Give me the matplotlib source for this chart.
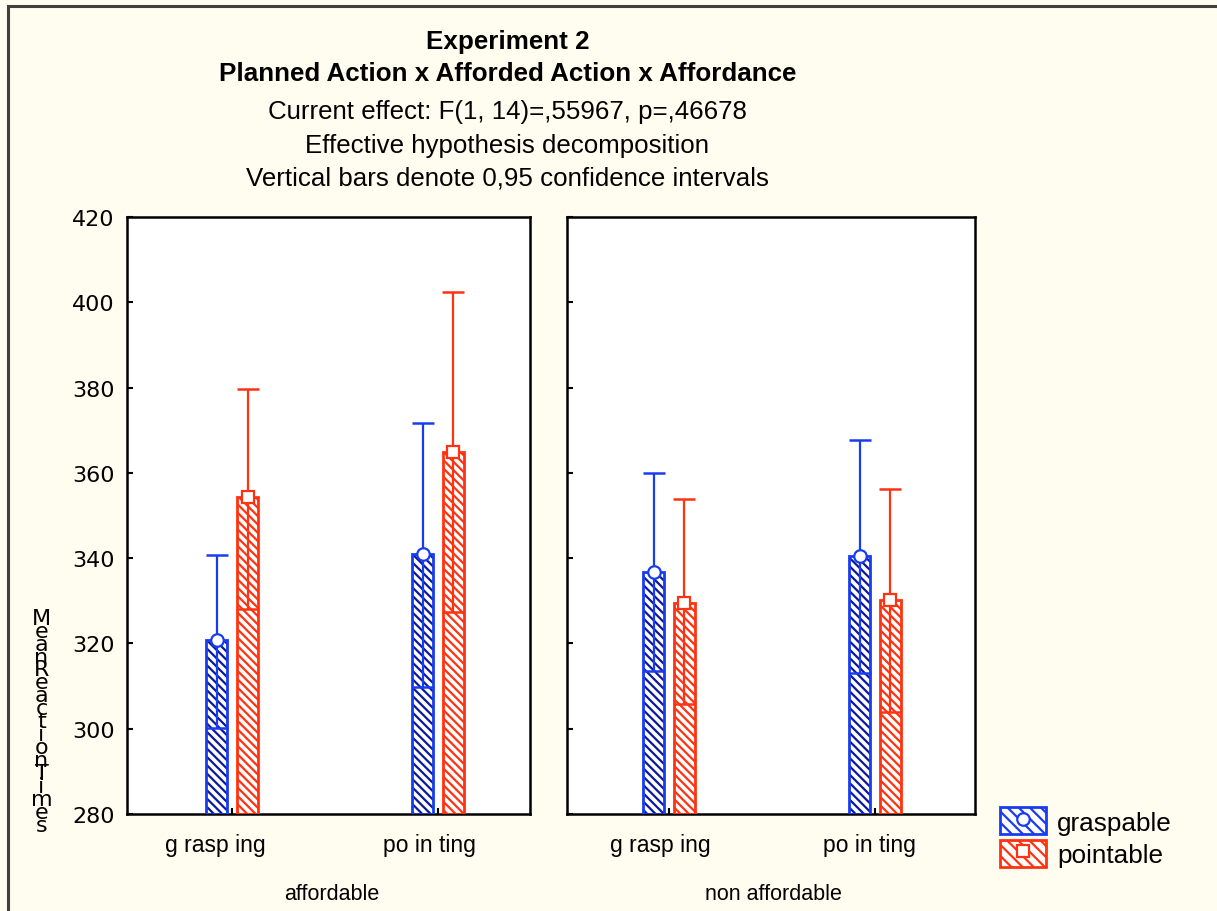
import numpy as np
import matplotlib
matplotlib.use('Agg')
import matplotlib.pyplot as plt
from matplotlib.patches import Patch, Rectangle
from matplotlib.lines import Line2D

# datos
paneles = ['affordable', 'non affordable']
categorias = ['g rasp ing', 'po in ting']
series = ['graspable', 'pointable']

media = {'affordable': {'graspable': [320.8, 341.0], 'pointable': [354.3, 364.9]},
         'non affordable': {'graspable': [336.8, 340.5], 'pointable': [329.5, 330.2]}}
ic_sup = {'affordable': {'graspable': [340.7, 371.7], 'pointable': [379.7, 402.4]},
          'non affordable': {'graspable': [360.0, 367.7], 'pointable': [353.9, 356.2]}}
ic_inf = {'affordable': {'graspable': [300.2, 309.8], 'pointable': [328.1, 327.4]},
          'non affordable': {'graspable': [313.5, 313.1], 'pointable': [305.8, 303.9]}}

yticks = [280, 300, 320, 340, 360, 380, 400, 420]

colores = {'graspable': '#1a3cf0', 'pointable': '#ff3311'}
colhatch = {'graspable': '#0a1a9a', 'pointable': '#ff3311'}
marcas = {'graspable': 'o', 'pointable': 's'}
desp = {'graspable': -0.075, 'pointable': 0.075}
ancho = 0.102

plt.rcParams['font.family'] = ['Liberation Sans', 'DejaVu Sans']
plt.rcParams['hatch.linewidth'] = 1.6

fondo = '#fffcf0'
fig = plt.figure(figsize=(12.17, 9.12), dpi=100, facecolor=fondo)

# borde exterior
fig.add_artist(Rectangle((0.0065, -0.01), 1.2, 1.002, transform=fig.transFigure,
                         fill=False, edgecolor='#404040', linewidth=2.2))

ejes = [fig.add_axes([0.1044, 0.1064, 0.3311, 0.6546]),
        fig.add_axes([0.4659, 0.1064, 0.3352, 0.6546])]
limx = [(-0.51, 1.447), (-0.495, 1.485)]

# corrimiento horizontal (pt) de las etiquetas de categoria, como en el original
corr_pt = [[-12, -5.8], [-6.5, -4.3]]

for k, (ax, panel) in enumerate(zip(ejes, paneles)):
    x = np.arange(len(categorias))
    for s in series:
        m = np.array(media[panel][s])
        sup = np.array(ic_sup[panel][s])
        inf = np.array(ic_inf[panel][s])
        xs = x + desp[s]
        ax.bar(xs, m - 280, bottom=280, width=ancho, facecolor='white',
               edgecolor=colhatch[s], hatch='\\\\\\\\', linewidth=0, zorder=2)
        ax.bar(xs, m - 280, bottom=280, width=ancho, facecolor='none',
               edgecolor=colores[s], linewidth=2, zorder=3)
        ax.errorbar(xs, m, yerr=[m - inf, sup - m], fmt='none', ecolor=colores[s],
                    elinewidth=1.6, capsize=8, capthick=1.8, zorder=4)
        ax.plot(xs, m, linestyle='none', marker=marcas[s], markersize=9,
                markerfacecolor='white', markeredgecolor=colores[s],
                markeredgewidth=1.6, zorder=5)
    ax.set_xlim(*limx[k])
    ax.set_ylim(280, 420)
    ax.set_yticks(yticks)
    ax.set_xticks(x)
    ax.set_xticklabels([])
    for j, cat in enumerate(categorias):
        ax.annotate(cat, xy=(x[j], 0), xycoords=ax.get_xaxis_transform(),
                    xytext=(corr_pt[k][j], -22), textcoords='offset points',
                    ha='center', va='center', fontsize=16.5,
                    family=['Liberation Sans Narrow', 'Liberation Sans'])
    ax.annotate(panel, xy=(0.5, 0), xycoords='axes fraction', xytext=(2, -57),
                textcoords='offset points', ha='center', va='center', fontsize=15.5)
    ax.tick_params(direction='in', length=4, width=1.5)
    ax.tick_params(axis='y', pad=9)
    for sp in ax.spines.values():
        sp.set_linewidth(1.8)
    ax.set_facecolor('white')

ejes[0].set_yticklabels([str(v) for v in yticks], fontsize=16, family='DejaVu Sans')
ejes[1].set_yticklabels([])

# etiqueta del eje y (letras apiladas)
fig.text(0.034, 0.208, '\n'.join('MeanReactionTimes'), fontsize=16,
         ha='center', va='center', linespacing=0.56, family='DejaVu Sans')

# titulos
fig.text(0.417, 0.954, 'Experiment 2', fontsize=18.7, fontweight='bold', ha='center', va='center')
fig.text(0.417, 0.919, 'Planned Action x Afforded Action x Affordance', fontsize=18.7,
         fontweight='bold', ha='center', va='center')
fig.text(0.417, 0.877, 'Current effect: F(1, 14)=,55967, p=,46678', fontsize=18.6, ha='center', va='center')
fig.text(0.417, 0.840, 'Effective hypothesis decomposition', fontsize=18.6, ha='center', va='center')
fig.text(0.417, 0.804, 'Vertical bars denote 0,95 confidence intervals', fontsize=18.6, ha='center', va='center')

# leyenda
manijas = []
for s in series:
    p = Patch(facecolor='white', edgecolor=colores[s], hatch='\\\\\\', linewidth=2)
    l = Line2D([], [], linestyle='none', marker=marcas[s], markersize=9,
               markerfacecolor='white', markeredgecolor=colores[s], markeredgewidth=1.6)
    manijas.append((p, l))
fig.legend(manijas, series, loc='upper left', bbox_to_anchor=(0.813, 0.125),
           frameon=False, fontsize=18.8, handlelength=1.75, handleheight=1.2,
           handletextpad=0.45, labelspacing=0.2, borderaxespad=0)

fig.savefig('out.png', dpi=100, facecolor=fondo)
